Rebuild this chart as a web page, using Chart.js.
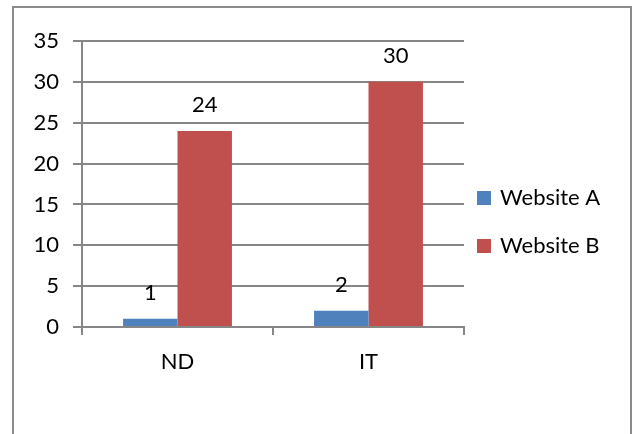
<!DOCTYPE html>
<html>
<head>
<meta charset="utf-8">
<script src="https://cdn.jsdelivr.net/npm/chart.js@4.4.1/dist/chart.umd.min.js"></script>
<style>
    html, body { margin: 0; padding: 0; background: #fff; overflow: hidden; }
    #wrap { position: relative; width: 638px; height: 434px; }
    #frame {
        position: absolute; left: 12px; top: 6px; width: 620px; height: 460px;
        border: 2px solid #8c8c8c; box-sizing: border-box;
    }
    canvas { position: absolute; left: 0; top: 0; }
</style>
</head>
<body>
<div id="wrap">
    <div id="frame"></div>
    <canvas id="chart" width="638" height="434"></canvas>
</div>
<script>
// Chart data
const categories = ['ND', 'IT'];
const websiteA = [1, 2];
const websiteB = [24, 30];
const seriesNames = ['Website A', 'Website B'];
const yTicks = [0, 5, 10, 15, 20, 25, 30, 35];

const FONT = 'Lato, "Open Sans", sans-serif';
const FSIZE = 22;
const TEXT = '#000';
const GRID = '#868686';

// Value labels above each bar
const valueLabels = {
    id: 'valueLabels',
    afterDatasetsDraw(chart) {
        const ctx = chart.ctx;
        ctx.save();
        ctx.font = FSIZE + 'px ' + FONT;
        ctx.fillStyle = TEXT;
        ctx.textAlign = 'center';
        ctx.textBaseline = 'middle';
        chart.data.datasets.forEach((ds, i) => {
            chart.getDatasetMeta(i).data.forEach((bar, j) => {
                ctx.fillText(ds.data[j], bar.x, bar.y - 26);
            });
        });
        ctx.restore();
    }
};

// Excel style legend on the right
const sideLegend = {
    id: 'sideLegend',
    afterDraw(chart) {
        const ctx = chart.ctx;
        ctx.save();
        ctx.font = FSIZE + 'px ' + FONT;
        ctx.textBaseline = 'middle';
        chart.data.datasets.forEach((ds, i) => {
            const y = 198 + i * 48;
            ctx.fillStyle = ds.backgroundColor;
            ctx.fillRect(477, y - 7, 14, 14);
            ctx.fillStyle = TEXT;
            ctx.fillText(ds.label, 500, y);
        });
        ctx.restore();
    }
};

new Chart(document.getElementById('chart'), {
    type: 'bar',
    data: {
        labels: categories,
        datasets: [{
            label: seriesNames[0],
            data: websiteA,
            backgroundColor: '#4F81BD',
            categoryPercentage: 0.57,
            barPercentage: 1
        }, {
            label: seriesNames[1],
            data: websiteB,
            backgroundColor: '#C0504D',
            categoryPercentage: 0.57,
            barPercentage: 1
        }]
    },
    options: {
        responsive: false,
        animation: false,
        layout: { padding: { left: 10, top: 41, right: 174, bottom: 0 } },
        scales: {
            y: {
                min: 0,
                max: 35,
                afterBuildTicks: s => { s.ticks = yTicks.map(v => ({ value: v })); },
                afterFit: s => { s.width = 72; },
                ticks: { color: TEXT, font: { family: FONT, size: FSIZE }, padding: 14 },
                grid: { color: GRID, lineWidth: 2, tickLength: 9 },
                border: { color: GRID, width: 2 }
            },
            x: {
                afterFit: s => { s.height = 107; },
                ticks: { color: TEXT, font: { family: FONT, size: FSIZE }, padding: 14 },
                grid: { color: GRID, lineWidth: 2, drawOnChartArea: false, tickLength: 8, offset: true },
                border: { color: GRID, width: 2 }
            }
        },
        plugins: {
            legend: { display: false },
            tooltip: { enabled: false }
        }
    },
    plugins: [valueLabels, sideLegend]
});
</script>
</body>
</html>
